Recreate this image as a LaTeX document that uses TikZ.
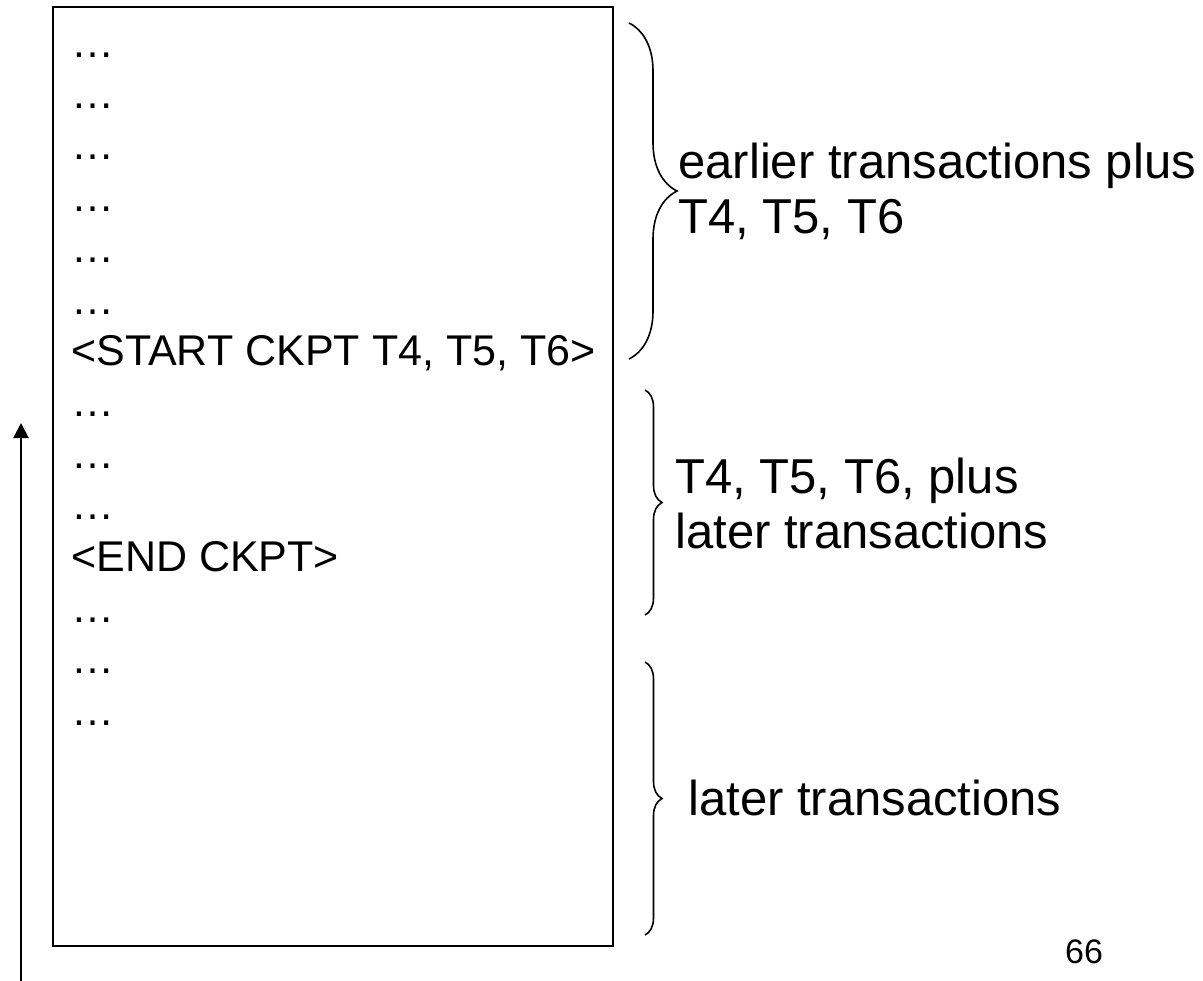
\documentclass[tikz,border=0pt]{standalone}
\usepackage{fontspec}
\setmainfont{Liberation Sans}
\usepackage{tikz}
\usetikzlibrary{decorations.pathreplacing, arrows.meta}

\tikzset{
  logline/.style={anchor=base west, inner sep=0pt, font=\fontsize{21.5}{25}\selectfont},
  lbl/.style={anchor=west, inner sep=0pt, align=left, font=\fontsize{24.5}{27.5}\selectfont},
  brc/.style={decorate, line width=0.8pt, decoration={brace, amplitude=#1}}
}

\begin{document}
\begin{tikzpicture}[x=0.5pt, y=-0.5pt]
\useasboundingbox (0,0) rectangle (1203,980);
\draw[line width=1pt] (53,7) rectangle (613,946);
\foreach \k/\t in {
0/…, 1/…, 2/…, 3/…, 4/…, 5/…, 6/{<START CKPT T4, T5, T6>},
7/…, 8/…, 9/…, 10/{<END CKPT>}, 11/…, 12/…, 13/…
}{
\node[logline] (line\k) at (71,57+51.4*\k) {\t};
}
% braces
\coordinate (b1top) at (629,23);
\coordinate (b1bot) at (629,359);
\coordinate (b2top) at (645,390);
\coordinate (b2bot) at (645,615);
\coordinate (b3top) at (645,662);
\coordinate (b3bot) at (645,935);
\draw[brc=24pt] (b1top) -- (b1bot);
\draw[brc=8.5pt] (b2top) -- (b2bot);
\draw[brc=8.5pt] (b3top) -- (b3bot);
\node[lbl] (earlier) at (678,191) {earlier transactions plus\\T4, T5, T6};
\node[lbl] (during) at (675,503) {T4, T5, T6, plus\\later transactions};
\node[lbl] (later) at (688,798) {later transactions};
% time arrow
\coordinate (arrbot) at (21,985);
\coordinate (arrtop) at (21,423);
\draw[line width=1pt, -{Triangle[length=7.5pt,width=7.5pt]}] (arrbot) -- (arrtop);
\node[inner sep=0pt, font=\fontsize{17}{20}\selectfont] (pgnum) at (1084,952) {66};
\end{tikzpicture}
\end{document}
